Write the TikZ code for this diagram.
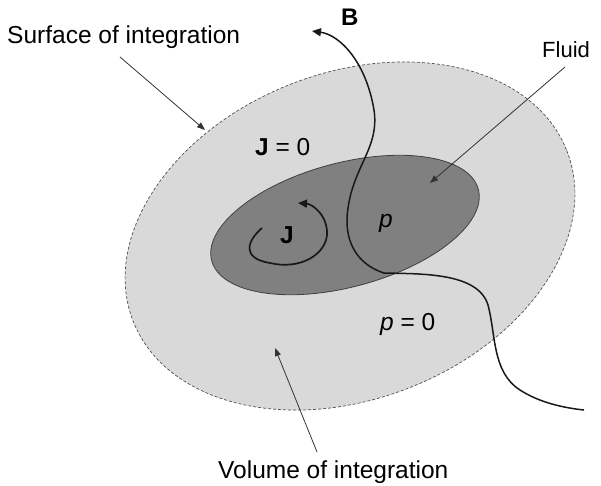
\documentclass[tikz,border=0pt]{standalone}
\usepackage{fontspec}
\setmainfont{Liberation Sans}
\usetikzlibrary{arrows.meta}
\definecolor{outerfill}{HTML}{D9D9D9}
\definecolor{innerfill}{HTML}{808080}
\definecolor{edgegray}{HTML}{505050}
\begin{document}
\begin{tikzpicture}[x=1pt,y=-1pt,
  lbl/.style={inner sep=0pt, anchor=base west, font=\fontsize{24.5}{28}\selectfont},
  pointer/.style={draw=black!80, line width=0.8pt, -{Triangle[length=8pt,width=6pt]}},
  fieldline/.style={draw=black!90, line width=1.5pt},
  loopline/.style={draw=black!90, line width=1.7pt, -{Triangle[length=9pt,width=8pt]}}]
\useasboundingbox (0,0) rectangle (601,485);
% outer volume
\path[fill=outerfill, draw=edgegray, densely dashed, line width=0.7pt, rotate around={21.5:(350,236)}]
  (350,236) ellipse [x radius=233, y radius=163];
% fluid
\path[fill=innerfill, draw=black!75, line width=0.8pt, rotate around={15:(345,225)}]
  (345,225) ellipse [x radius=138, y radius=62];
% coordinates
\coordinate (btip) at (312,31);
\coordinate (bend) at (584,410);
\coordinate (jstart) at (262,228);
\coordinate (jtip) at (298,203);
% field line B
\draw[fieldline, {Triangle[length=9pt,width=8pt]}-] (btip) .. controls (340,35) and (366,62) .. (374,110)
  .. controls (380,150) and (350,168) .. (347,218)
  .. controls (346,248) and (362,266) .. (384,273)
  .. controls (420,274) and (478,272) .. (488,305)
  .. controls (496,335) and (492,372) .. (520,390)
  .. controls (540,403) and (565,408) .. (bend);
% current loop J
\draw[loopline] (jstart) .. controls (248,240) and (240,258) .. (270,263)
  .. controls (300,270) and (325,255) .. (327,235)
  .. controls (328,215) and (312,204) .. (jtip);
% labels
\node[lbl] (surf) at (7,43) {Surface of integration};
\node[lbl] (vol) at (218,478) {Volume of integration};
\node[lbl, font=\fontsize{22}{26}\selectfont] (fluid) at (542,57) {Fluid};
\node[lbl, font=\fontsize{24}{28}\selectfont] (B) at (341,25) {\textbf{B}};
\node[lbl] (J0) at (255,155) {\textbf{J} = 0};
\node[lbl] (p0) at (380,330) {\textit{p} = 0};
\node[lbl] (J) at (280,243) {\textbf{J}};
\node[lbl] (p) at (379,227) {\textit{p}};
% pointer targets
\coordinate (surfpt) at (205,130);
\coordinate (fluidpt) at (430,183);
\coordinate (volpt) at (275,348);
\coordinate (surfsrc) at (120,57);
\coordinate (fluidsrc) at (565,67);
\coordinate (volsrc) at (317,452);
\draw[pointer] (surfsrc) -- (surfpt);
\draw[pointer] (fluidsrc) -- (fluidpt);
\draw[pointer] (volsrc) -- (volpt);
\end{tikzpicture}
\end{document}
